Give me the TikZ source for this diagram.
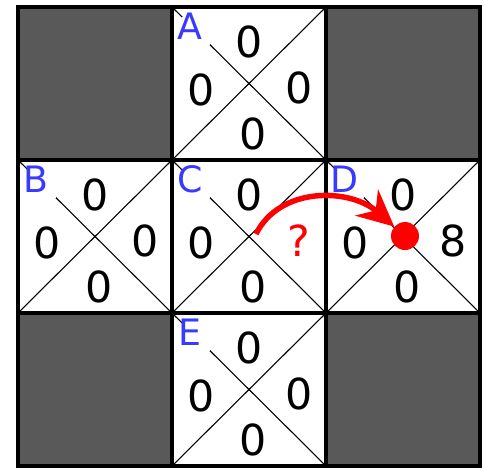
\documentclass[tikz,border=0pt]{standalone}
\usepackage{fontspec}
\setmainfont{DejaVu Sans}
\usetikzlibrary{arrows.meta, calc}
\definecolor{wallgray}{HTML}{595959}
\definecolor{labblue}{HTML}{3A3AFF}

\begin{document}
\begin{tikzpicture}[x=0.55pt, y=-0.55pt,
                cell/.style={draw=black, line width=2pt, rectangle, minimum width=84.7pt, minimum height=84.15pt, inner sep=0pt, outer sep=0pt},
                wall/.style={cell, fill=wallgray},
                open/.style={cell, fill=white},
                diag/.style={line width=0.6pt},
                mask/.style={fill=white, rectangle, minimum size=15.4pt, inner sep=0pt},
                cornerlab/.style={text=labblue, inner sep=0pt, font=\fontsize{20}{24}\selectfont},
                val/.style={inner sep=0pt, font=\fontsize{23.5}{28}\selectfont},
                move/.style={draw=red, line width=3pt, -{Stealth[length=20pt, width=19pt]}}
            ]

            \useasboundingbox (0,0) rectangle (484,470);

            % Zellen
            \node[wall] (NW) at (95,83.5) {};
            \node[open] (A) at (249,83.5) {};
            \node[wall] (NE) at (403,83.5) {};
            \node[open] (B) at (95,236.5) {};
            \node[open] (C) at (249,236.5) {};
            \node[open] (D) at (403,236.5) {};
            \node[wall] (SW) at (95,389.5) {};
            \node[open] (E) at (249,389.5) {};
            \node[wall] (SE) at (403,389.5) {};

            % Diagonalen, Buchstaben und Werte
            \foreach \c/\r/\rc in {A/0/black, B/0/black, C/?/red, D/8/black, E/0/black} {
                \draw[diag] (\c.north west) -- (\c.south east);
                \draw[diag] (\c.south west) -- (\c.north east);
                \node[mask] (\c-mask) at ($(\c.north west)+(24,24)$) {};
                \node[cornerlab] (\c-lab) at ($(\c.north west)+(18,19)$) {\c};
                \node[val] (\c-top) at ($(\c.north west)+(77,35)$) {0};
                \node[val] (\c-left) at ($(\c.north west)+(29,83)$) {0};
                \node[val, text=\rc] (\c-right) at ($(\c.north west)+(127,81)$) {\r};
                \node[val] (\c-bot) at ($(\c.north west)+(81,127)$) {0};
            }

            % Zug
            \node[circle, fill=red, minimum size=15.4pt, inner sep=0pt] (goal) at (405,236) {};
            \coordinate (start) at (256,234);
            \draw[move] (start) .. controls (280,186) and (350,188) .. (goal);

        \end{tikzpicture}
\end{document}
